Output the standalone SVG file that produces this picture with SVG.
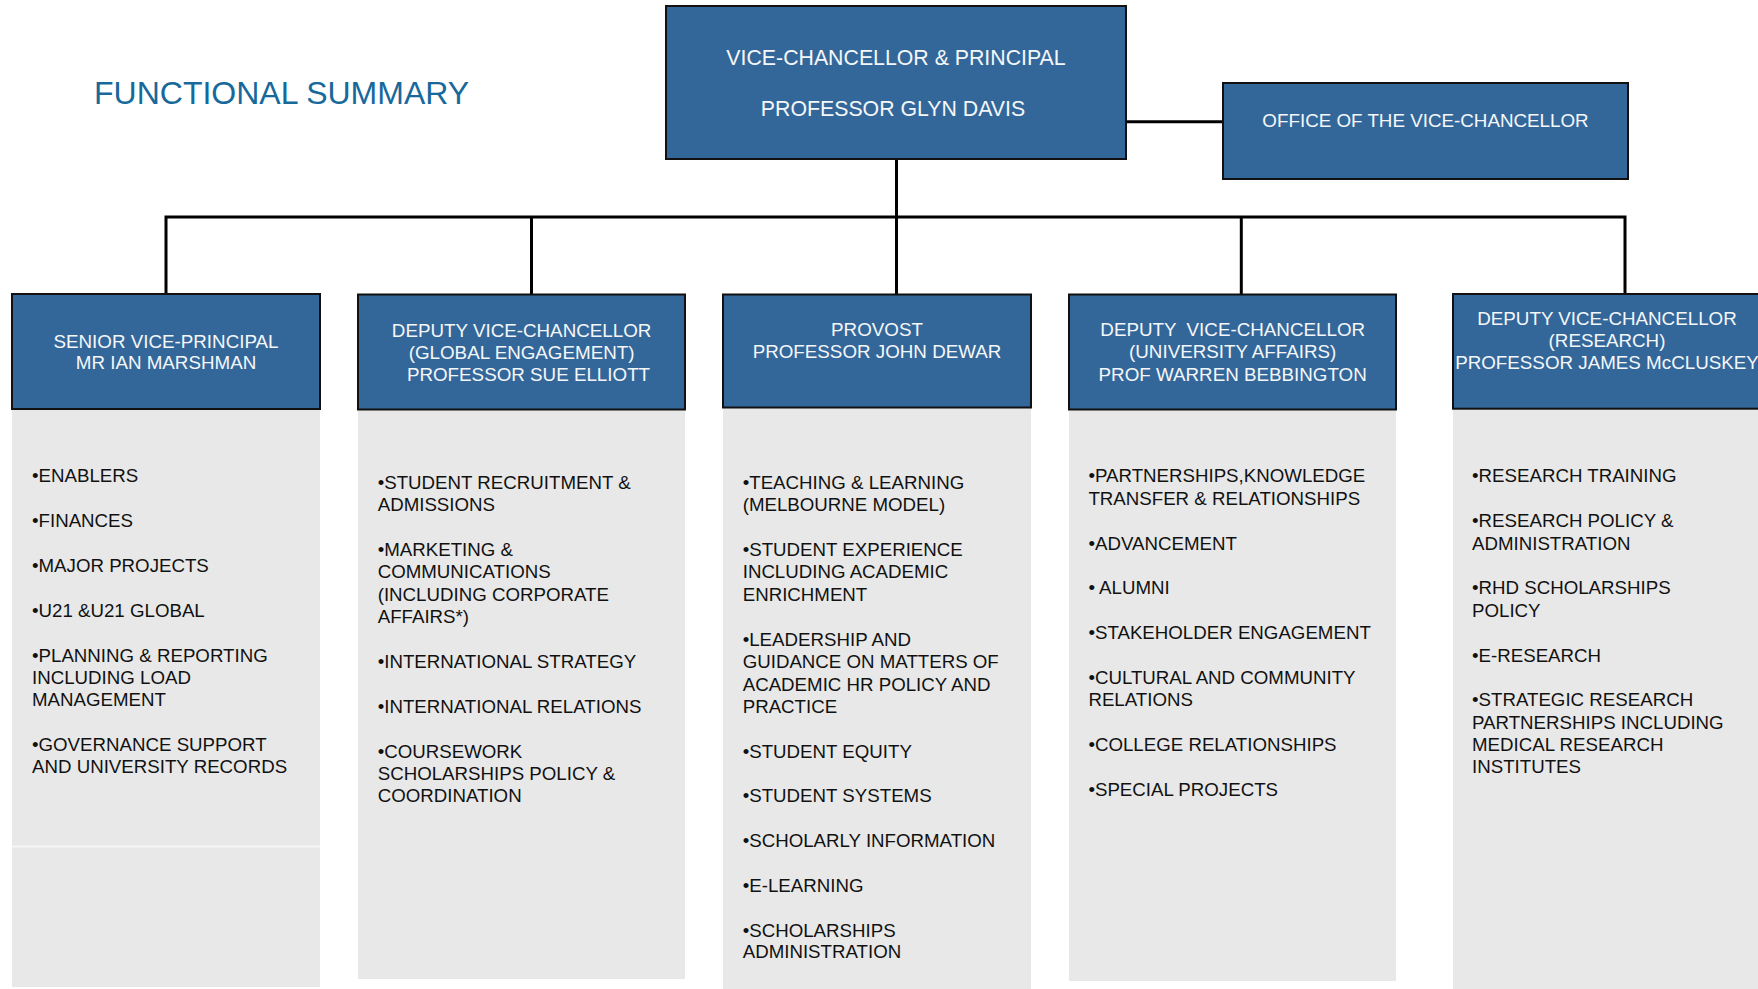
<svg xmlns="http://www.w3.org/2000/svg" width="1758" height="989" viewBox="0 0 1758 989">
<style>
.box{fill:#346799;stroke:#111;stroke-width:2}
.panel{fill:#E8E8E8}
.hd{font-family:"Liberation Sans",Arial,sans-serif;font-size:18.8px;fill:#F4F7FA;text-anchor:middle}
.vc{font-family:"Liberation Sans",Arial,sans-serif;font-size:21.3px;fill:#F4F7FA;text-anchor:middle}
.it{font-family:"Liberation Sans",Arial,sans-serif;font-size:18.7px;fill:#111}
.ln{stroke:#000;stroke-width:3;fill:none}
</style>
<rect width="1758" height="989" fill="#fff"/>
<text x="94" y="104" font-family="Liberation Sans, Arial, sans-serif" font-size="32" fill="#17699C">FUNCTIONAL SUMMARY</text>

<g id="connectors">
<path class="ln" d="M896.5 159V294"/>
<path class="ln" d="M1126 121.7H1223"/>
<path class="ln" d="M166 294V217H1625V294"/>
<path class="ln" d="M531.5 217V294"/>
<path class="ln" d="M1241.3 217V294"/>
</g>

<g id="vc">
<rect class="box" x="666" y="6" width="460" height="153" stroke-width="2.5"/>
<text class="vc" x="896" y="65">VICE-CHANCELLOR &amp; PRINCIPAL</text>
<text class="vc" x="893" y="116">PROFESSOR GLYN DAVIS</text>
</g>

<g id="office">
<rect class="box" x="1223" y="83" width="405" height="96" stroke-width="2.5"/>
<text class="hd" x="1425.5" y="126.5">OFFICE OF THE VICE-CHANCELLOR</text>
</g>

<g id="svp">
<rect class="panel" x="12" y="409" width="308" height="578"/>
<line x1="12" y1="846.5" x2="320" y2="846.5" stroke="#F6F6F6" stroke-width="2"/>
<rect class="box" x="12" y="294" width="308" height="115"/>
<text class="hd" x="166" y="347.7">SENIOR VICE-PRINCIPAL</text>
<text class="hd" x="166" y="369.3">MR IAN MARSHMAN</text>
<g class="it">
<text x="32" y="482.3">•ENABLERS</text>
<text x="32" y="527.3">•FINANCES</text>
<text x="32" y="572.3">•MAJOR PROJECTS</text>
<text x="32" y="616.7">•U21 &amp;U21 GLOBAL</text>
<text x="32" y="661.7">•PLANNING &amp; REPORTING</text>
<text x="32" y="684">INCLUDING LOAD</text>
<text x="32" y="706">MANAGEMENT</text>
<text x="32" y="751">•GOVERNANCE SUPPORT</text>
<text x="32" y="773.3">AND UNIVERSITY RECORDS</text>
</g>
</g>

<g id="dvc-global">
<rect class="panel" x="358" y="409" width="327" height="570"/>
<rect class="box" x="358" y="294.5" width="327" height="115"/>
<text class="hd" x="521.6" y="337">DEPUTY VICE-CHANCELLOR</text>
<text class="hd" x="521.6" y="359">(GLOBAL ENGAGEMENT)</text>
<text class="hd" x="528.5" y="380.7">PROFESSOR SUE ELLIOTT</text>
<g class="it">
<text x="377.7" y="489">•STUDENT RECRUITMENT &amp;</text>
<text x="377.7" y="510.7">ADMISSIONS</text>
<text x="377.7" y="556">•MARKETING &amp;</text>
<text x="377.7" y="577.7">COMMUNICATIONS</text>
<text x="377.7" y="600.7">(INCLUDING CORPORATE</text>
<text x="377.7" y="622.7">AFFAIRS*)</text>
<text x="377.7" y="668">•INTERNATIONAL STRATEGY</text>
<text x="377.7" y="713">•INTERNATIONAL RELATIONS</text>
<text x="377.7" y="757.7">•COURSEWORK</text>
<text x="377.7" y="780">SCHOLARSHIPS POLICY &amp;</text>
<text x="377.7" y="801.7">COORDINATION</text>
</g>
</g>

<g id="provost">
<rect class="panel" x="723" y="407" width="308" height="582"/>
<rect class="box" x="723" y="294.5" width="308" height="113"/>
<text class="hd" x="877" y="335.7">PROVOST</text>
<text class="hd" x="877" y="357.7">PROFESSOR JOHN DEWAR</text>
<g class="it">
<text x="742.7" y="489.3">•TEACHING &amp; LEARNING</text>
<text x="742.7" y="511">(MELBOURNE MODEL)</text>
<text x="742.7" y="556.3">•STUDENT EXPERIENCE</text>
<text x="742.7" y="578.3">INCLUDING ACADEMIC</text>
<text x="742.7" y="601">ENRICHMENT</text>
<text x="742.7" y="645.7">•LEADERSHIP AND</text>
<text x="742.7" y="668.3">GUIDANCE ON MATTERS OF</text>
<text x="742.7" y="690.7">ACADEMIC HR POLICY AND</text>
<text x="742.7" y="713">PRACTICE</text>
<text x="742.7" y="757.7">•STUDENT EQUITY</text>
<text x="742.7" y="801.7">•STUDENT SYSTEMS</text>
<text x="742.7" y="846.7">•SCHOLARLY INFORMATION</text>
<text x="742.7" y="891.7">•E-LEARNING</text>
<text x="742.7" y="936.7">•SCHOLARSHIPS</text>
<text x="742.7" y="958.3">ADMINISTRATION</text>
</g>
</g>

<g id="dvc-university">
<rect class="panel" x="1069" y="409" width="327" height="572"/>
<rect class="box" x="1069" y="294.5" width="327" height="115"/>
<text class="hd" x="1232.7" y="336" xml:space="preserve">DEPUTY  VICE-CHANCELLOR</text>
<text class="hd" x="1232.7" y="358">(UNIVERSITY AFFAIRS)</text>
<text class="hd" x="1232.7" y="380.5">PROF WARREN BEBBINGTON</text>
<g class="it">
<text x="1088.4" y="482.3">•PARTNERSHIPS,KNOWLEDGE</text>
<text x="1088.4" y="505">TRANSFER &amp; RELATIONSHIPS</text>
<text x="1088.4" y="550">•ADVANCEMENT</text>
<text x="1088.4" y="594.3" xml:space="preserve">• ALUMNI</text>
<text x="1088.4" y="639.3">•STAKEHOLDER ENGAGEMENT</text>
<text x="1088.4" y="684.3">•CULTURAL AND COMMUNITY</text>
<text x="1088.4" y="705.7">RELATIONS</text>
<text x="1088.4" y="751">•COLLEGE RELATIONSHIPS</text>
<text x="1088.4" y="796">•SPECIAL PROJECTS</text>
</g>
</g>

<g id="dvc-research">
<rect class="panel" x="1453" y="408" width="310" height="581"/>
<rect class="box" x="1453" y="294" width="310" height="114.7"/>
<text class="hd" x="1607" y="325">DEPUTY VICE-CHANCELLOR</text>
<text class="hd" x="1607" y="347.3">(RESEARCH)</text>
<text class="hd" x="1607" y="369.3">PROFESSOR JAMES McCLUSKEY</text>
<g class="it">
<text x="1472" y="482.3">•RESEARCH TRAINING</text>
<text x="1472" y="527.3">•RESEARCH POLICY &amp;</text>
<text x="1472" y="550">ADMINISTRATION</text>
<text x="1472" y="594.3">•RHD SCHOLARSHIPS</text>
<text x="1472" y="616.7">POLICY</text>
<text x="1472" y="661.7">•E-RESEARCH</text>
<text x="1472" y="706">•STRATEGIC RESEARCH</text>
<text x="1472" y="728.7">PARTNERSHIPS INCLUDING</text>
<text x="1472" y="751">MEDICAL RESEARCH</text>
<text x="1472" y="773.3">INSTITUTES</text>
</g>
</g>
</svg>
